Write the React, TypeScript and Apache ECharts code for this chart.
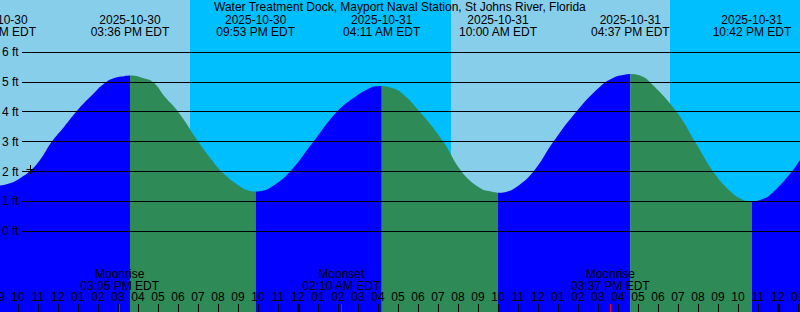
import React, { useEffect, useRef } from "react";
import * as echarts from "echarts";

// ---- data (hours since 2025-10-30 00:00 EDT, feet) ----
const TITLE = "Water Treatment Dock, Mayport Naval Station, St Johns River, Florida";

const rise1 = [[8.95, 1.52], [9.6, 1.61], [10.1, 1.78], [10.6, 2.02], [11.1, 2.39], [11.685, 3.0], [12.3, 3.5], [12.9, 4.0], [13.6, 4.5], [14.4, 5.0], [15.0, 5.17], [15.3, 5.2], [15.6, 5.22]];
const fall1 = [[15.6, 5.22], [15.9, 5.21], [16.2, 5.15], [16.765, 5.0], [17.35, 4.5], [18.015, 4.0], [19.015, 3.0], [19.6, 2.47], [20.185, 2.0], [21.1, 1.5], [21.55, 1.36], [21.883, 1.33]];
const rise2 = [[21.883, 1.33], [22.2, 1.35], [22.7, 1.5], [23.6, 2.0], [24.765, 3.0], [25.935, 4.0], [26.85, 4.5], [27.6, 4.8], [27.9, 4.86], [28.183, 4.87]];
const fall2 = [[28.183, 4.87], [28.6, 4.82], [29.1, 4.68], [30.1, 4.0], [31.265, 3.0], [32.185, 2.0], [33.1, 1.45], [33.6, 1.34], [34.0, 1.29]];
const rise3 = [[34.0, 1.29], [34.4, 1.32], [34.85, 1.45], [35.765, 2.0], [36.765, 3.0], [37.9, 4.0], [39.1, 4.85], [39.85, 5.17], [40.25, 5.24], [40.617, 5.27]];
const fall3 = [[40.617, 5.27], [41.1, 5.22], [41.6, 5.0], [42.935, 4.0], [43.85, 3.0], [44.765, 2.0], [45.6, 1.35], [46.2, 1.07], [46.7, 0.99]];
const rise4 = [[46.7, 0.99], [47.1, 1.05], [47.6, 1.22], [48.685, 2.0], [49.1, 2.39], [49.6, 2.85]];

const risingSegments = [rise1, rise2, rise3, rise4];
const fallingSegments = [fall1, fall2, fall3];

const tideTimes = [8.95, 15.6, 21.883, 28.183, 34.0, 40.617, 46.7];
const tideDates = ["2025-10-30", "2025-10-30", "2025-10-30", "2025-10-31", "2025-10-31", "2025-10-31", "2025-10-31"];
const tideClocks = ["08:57 AM EDT", "03:36 PM EDT", "09:53 PM EDT", "04:11 AM EDT", "10:00 AM EDT", "04:37 PM EDT", "10:42 PM EDT"];

const nights = [[18.6, 31.65], [42.6, 49.6]];

const moonTimes = [15.083, 26.167, 39.617];
const moonKinds = ["Moonrise", "Moonset", "Moonrise"];
const moonClocks = ["03:05 PM EDT", "02:10 AM EDT", "03:37 PM EDT"];

const midnights = [24, 48];
const levels = [0, 1, 2, 3, 4, 5, 6];
const nowPoint = [10.6, 2.07];

// ---- styles ----
const DAY = "#87CEEB";
const NIGHT = "#00BFFF";
const RISE = "#0000FF";
const FALL = "#2E8B57";
const FONT = '"Liberation Sans", Arial, Helvetica, sans-serif';
const W = 800;
const H = 312;

function hourLabel(v: number) {
  if (Math.abs(v - Math.round(v)) > 1e-6) return "";
  const h = ((Math.round(v) % 24) + 24) % 24;
  const h12 = h % 12 === 0 ? 12 : h % 12;
  return String(h12).padStart(2, "0");
}

function txt(x: number, y: number, text: string) {
  return {
    type: "text",
    x,
    y,
    style: { text, fill: "#000", fontSize: 12, fontFamily: FONT, align: "center", verticalAlign: "middle" },
  };
}

export default function App() {
  const ref = useRef<HTMLDivElement>(null);
  useEffect(() => {
    if (!ref.current) return;
    const chart = echarts.init(ref.current, null, { renderer: "svg" });

    const tideSeries: any[] = [];
    risingSegments.forEach((seg) =>
      tideSeries.push({
        type: "line", data: seg, smooth: 0.45, symbol: "none", z: 2,
        lineStyle: { width: 0, opacity: 0 },
        areaStyle: { color: RISE, opacity: 1, origin: "start" },
      })
    );
    fallingSegments.forEach((seg) =>
      tideSeries.push({
        type: "line", data: seg, smooth: 0.45, symbol: "none", z: 2,
        lineStyle: { width: 0, opacity: 0 },
        areaStyle: { color: FALL, opacity: 1, origin: "start" },
      })
    );

    const option: any = {
      animation: false,
      backgroundColor: DAY,
      grid: { left: -2, top: 0, right: 0, bottom: 0, containLabel: false, outerBoundsMode: "none" },
      xAxis: {
        type: "value", min: 9, max: 49.1, interval: 1, z: 10, position: "bottom",
        axisLine: { show: false, onZero: false },
        splitLine: { show: false },
        axisTick: { show: true, inside: true, length: 8, lineStyle: { color: "#000", width: 1 } },
        axisLabel: {
          inside: true, margin: 9, color: "#000", fontSize: 12, fontFamily: FONT,
          showMinLabel: true, showMaxLabel: true, hideOverlap: false, formatter: hourLabel,
        },
      },
      yAxis: { type: "value", min: -2.705, max: 7.754, show: false, splitLine: { show: false } },
      graphic: [
        { type: "text", left: "center", top: 1, z: 20,
          style: { text: TITLE, fill: "#000", fontSize: 12, fontFamily: FONT } },
      ],
      series: [
        {
          type: "custom", coordinateSystem: "cartesian2d", z: 1, silent: true,
          data: nights,
          renderItem: (params: any, api: any) => {
            const a = api.coord([api.value(0), 0]);
            const b = api.coord([api.value(1), 0]);
            return { type: "rect", shape: { x: a[0], y: 0, width: b[0] - a[0], height: H }, style: { fill: NIGHT } };
          },
        },
        ...tideSeries,
        {
          type: "custom", coordinateSystem: "cartesian2d", z: 5, silent: true,
          data: levels.map((l) => [9, l]),
          renderItem: (params: any, api: any) => {
            const p = api.coord([9, api.value(1)]);
            const y = Math.floor(p[1]) + 0.5;
            return {
              type: "group",
              children: [
                { type: "line", shape: { x1: 22, y1: y, x2: W, y2: y }, style: { stroke: "#000", lineWidth: 1 } },
                { type: "text", x: 2, y: p[1],
                  style: { text: api.value(1) + " ft", fill: "#000", fontSize: 12, fontFamily: FONT, align: "left", verticalAlign: "middle" } },
              ],
            };
          },
        },
        {
          type: "custom", coordinateSystem: "cartesian2d", z: 6, silent: true,
          data: tideTimes.map((t, i) => [t, 0, i]),
          renderItem: (params: any, api: any) => {
            const p = api.coord([api.value(0), 0]);
            const i = api.value(2);
            return { type: "group", children: [txt(p[0], 19.5, tideDates[i]), txt(p[0], 32, tideClocks[i])] };
          },
        },
        {
          type: "custom", coordinateSystem: "cartesian2d", z: 6, silent: true,
          data: moonTimes.map((t, i) => [t, 0, i]),
          renderItem: (params: any, api: any) => {
            const p = api.coord([api.value(0), 0]);
            const i = api.value(2);
            const x = Math.floor(p[0]);
            return {
              type: "group",
              children: [
                txt(p[0], 273.5, moonKinds[i]),
                txt(p[0], 285.5, moonClocks[i]),
                { type: "rect", shape: { x, y: H - 8, width: 1, height: 8 }, style: { fill: "#FF0000" } },
              ],
            };
          },
        },
        {
          type: "custom", coordinateSystem: "cartesian2d", z: 6, silent: true,
          data: midnights.map((t) => [t, 0]),
          renderItem: (params: any, api: any) => {
            const p = api.coord([api.value(0), 0]);
            const x = Math.round(p[0]);
            return { type: "rect", shape: { x: x - 1, y: H - 8, width: 3, height: 8 }, style: { fill: "#000" } };
          },
        },
        {
          type: "custom", coordinateSystem: "cartesian2d", z: 7, silent: true,
          data: [nowPoint],
          renderItem: (params: any, api: any) => {
            const p = api.coord([api.value(0), api.value(1)]);
            const x = Math.floor(p[0]) + 0.5;
            const y = Math.floor(p[1]) + 0.5;
            return {
              type: "group",
              children: [
                { type: "line", shape: { x1: x - 4, y1: y, x2: x + 4, y2: y }, style: { stroke: "#000", lineWidth: 1 } },
                { type: "line", shape: { x1: x, y1: y - 4.5, x2: x, y2: y + 4.5 }, style: { stroke: "#000", lineWidth: 1 } },
              ],
            };
          },
        },
      ],
    };
    chart.setOption(option);
    return () => chart.dispose();
  }, []);

  return <div ref={ref} style={{ position: "absolute", left: 0, top: 0, width: W, height: H }} />;
}
